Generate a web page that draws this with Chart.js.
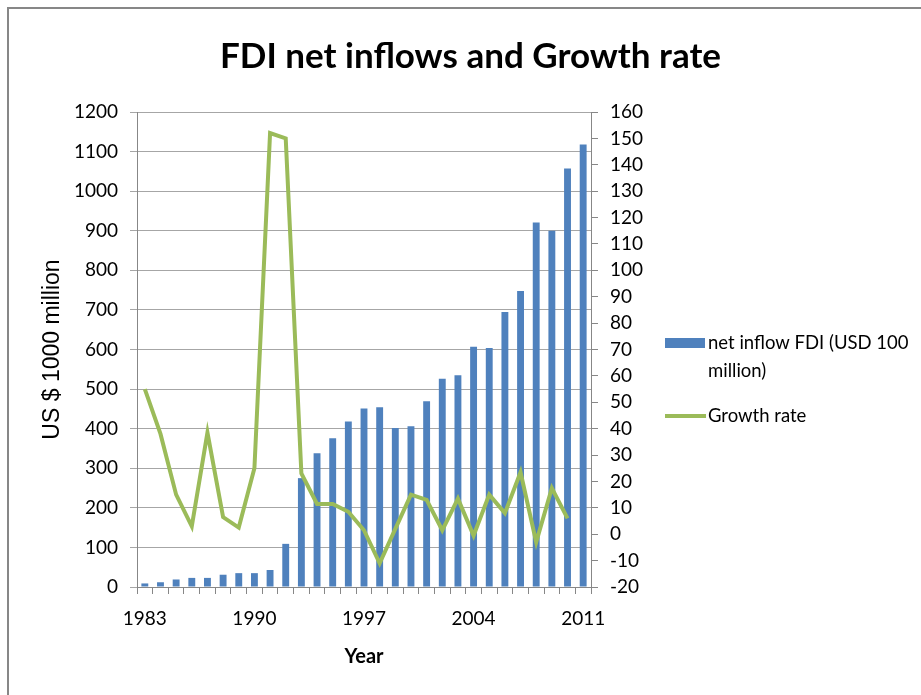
<!DOCTYPE html>
<html>
<head>
<meta charset="utf-8">
<title>FDI net inflows and Growth rate</title>
<script src="https://cdn.jsdelivr.net/npm/chart.js@4.4.1/dist/chart.umd.min.js"></script>
<style>
  html, body { margin: 0; padding: 0; background: #fff; }
  #wrap { position: relative; width: 921px; height: 695px; overflow: hidden; }
  #frame { position: absolute; left: 7px; top: 7px; width: 940px; height: 720px;
           border-left: 2px solid #878787; border-top: 2px solid #878787; }
  #chart { position: absolute; left: 0; top: 0; }
</style>
</head>
<body>
<div id="wrap">
  <div id="frame"></div>
  <canvas id="chart" width="921" height="695"></canvas>
</div>
<script>
const years = ['1983', '1984', '1985', '1986', '1987', '1988', '1989', '1990', '1991', '1992',
               '1993', '1994', '1995', '1996', '1997', '1998', '1999', '2000', '2001', '2002',
               '2003', '2004', '2005', '2006', '2007', '2008', '2009', '2010', '2011'];
const fdiInflow = [9, 12, 19, 23, 23, 31, 35, 35, 43, 109,
                   275, 338, 376, 418, 451, 454, 402, 406, 469, 526,
                   535, 607, 604, 695, 748, 921, 900, 1057, 1118];
const growthRate = [55, 38, 15, 3, 38.5, 6.5, 2.5, 25, 152, 150,
                    23, 11.5, 11.5, 8.5, 1.5, -11, 2, 15, 13, 1.5,
                    13.5, -0.5, 15, 8, 23.5, -3, 17.5, 6, null];
const xTickYears = ['1983', '1990', '1997', '2004', '2011'];
const leftTicks = [0, 100, 200, 300, 400, 500, 600, 700, 800, 900, 1000, 1100, 1200];
const rightTicks = [-20, -10, 0, 10, 20, 30, 40, 50, 60, 70, 80, 90, 100, 110, 120, 130, 140, 150, 160];

const FONT = "Lato, 'Liberation Sans', sans-serif";
const AXIS_GRAY = '#878787';

// legend on the right, with the long label wrapped like the original
const sideLegend = {
    id: 'sideLegend',
    afterDraw(chart, args, opts) {
        const ctx = chart.ctx;
        const ds = chart.data.datasets;
        ctx.save();
        ctx.font = opts.fontSize + 'px ' + FONT;
        ctx.textBaseline = 'middle';
        ctx.textAlign = 'left';

        // bars entry
        ctx.fillStyle = ds[1].backgroundColor;
        ctx.fillRect(opts.x, opts.y1 - 5, 40, 10);
        ctx.fillStyle = '#000';
        const words = ds[1].label.split(' ');
        let line = '', lines = [];
        words.forEach(w => {
            const test = line ? line + ' ' + w : w;
            if (ctx.measureText(test).width > opts.wrap && line) {
                lines.push(line);
                line = w;
            } else {
                line = test;
            }
        });
        lines.push(line);
        lines.forEach((l, i) => ctx.fillText(l, opts.x + 43, opts.y1 + i * 28));

        // line entry
        ctx.strokeStyle = ds[0].borderColor;
        ctx.lineWidth = 4;
        ctx.beginPath();
        ctx.moveTo(opts.x, opts.y2);
        ctx.lineTo(opts.x + 41, opts.y2);
        ctx.stroke();
        ctx.fillText(ds[0].label, opts.x + 43, opts.y2);
        ctx.restore();
    }
};

const ctx = document.getElementById('chart').getContext('2d');
new Chart(ctx, {
    type: 'bar',
    data: {
        labels: years,
        datasets: [
            {
                type: 'line',
                label: 'Growth rate',
                data: growthRate,
                yAxisID: 'y1',
                borderColor: '#9BBB59',
                borderWidth: 4,
                pointRadius: 0,
                tension: 0,
                fill: false,
                order: 0
            },
            {
                type: 'bar',
                label: 'net inflow FDI (USD 100 million)',
                data: fdiInflow,
                yAxisID: 'y',
                backgroundColor: '#4F81BD',
                categoryPercentage: 1,
                barPercentage: 0.44,
                order: 1
            }
        ]
    },
    options: {
        responsive: false,
        animation: false,
        layout: { padding: { left: 20, right: 0, top: 0, bottom: 0 } },
        plugins: {
            legend: { display: false },
            tooltip: { enabled: false },
            title: {
                display: true,
                text: 'FDI net inflows and Growth rate',
                color: '#000',
                font: { family: FONT, size: 35, weight: 'bold' },
                padding: { top: 36, bottom: 34 }
            },
            sideLegend: { x: 665, y1: 343, y2: 416, wrap: 205, fontSize: 18.5 }
        },
        scales: {
            x: {
                offset: true,
                grid: { offset: true, drawOnChartArea: false, tickLength: 7, color: AXIS_GRAY },
                border: { color: AXIS_GRAY },
                ticks: {
                    autoSkip: false,
                    maxRotation: 0,
                    padding: 13,
                    color: '#000',
                    font: { family: FONT, size: 19 },
                    callback: function (v) {
                        const l = this.getLabelForValue(v);
                        return xTickYears.includes(l) ? l : '';
                    }
                },
                title: {
                    display: true,
                    text: 'Year',
                    color: '#000',
                    font: { family: FONT, size: 20, weight: 'bold' },
                    padding: { top: 0, bottom: 26 }
                },
                afterFit(s) { s.height = 108; }
            },
            y: {
                position: 'left',
                min: 0,
                max: 1200,
                afterBuildTicks(s) { s.ticks = leftTicks.map(v => ({ value: v })); },
                grid: { color: '#A6A6A6', tickLength: 7 },
                border: { color: AXIS_GRAY },
                ticks: {
                    autoSkip: false,
                    padding: 12,
                    color: '#000',
                    font: { family: FONT, size: 19 },
                    callback: v => String(v)
                },
                title: {
                    display: true,
                    text: 'US $ 1000 million',
                    color: '#000',
                    font: { family: "'Liberation Sans', Arial, sans-serif", size: 23 },
                    padding: { top: 19, bottom: 0 }
                },
                afterFit(s) { s.width = 117; }
            },
            y1: {
                position: 'right',
                min: -20,
                max: 160,
                afterBuildTicks(s) { s.ticks = rightTicks.map(v => ({ value: v })); },
                grid: { drawOnChartArea: false, tickLength: 7, color: AXIS_GRAY },
                border: { color: AXIS_GRAY },
                ticks: {
                    autoSkip: false,
                    padding: 12,
                    color: '#000',
                    font: { family: FONT, size: 19 },
                    callback: v => String(v)
                },
                afterFit(s) { s.width = 330; }
            }
        }
    },
    plugins: [sideLegend]
});
</script>
</body>
</html>
